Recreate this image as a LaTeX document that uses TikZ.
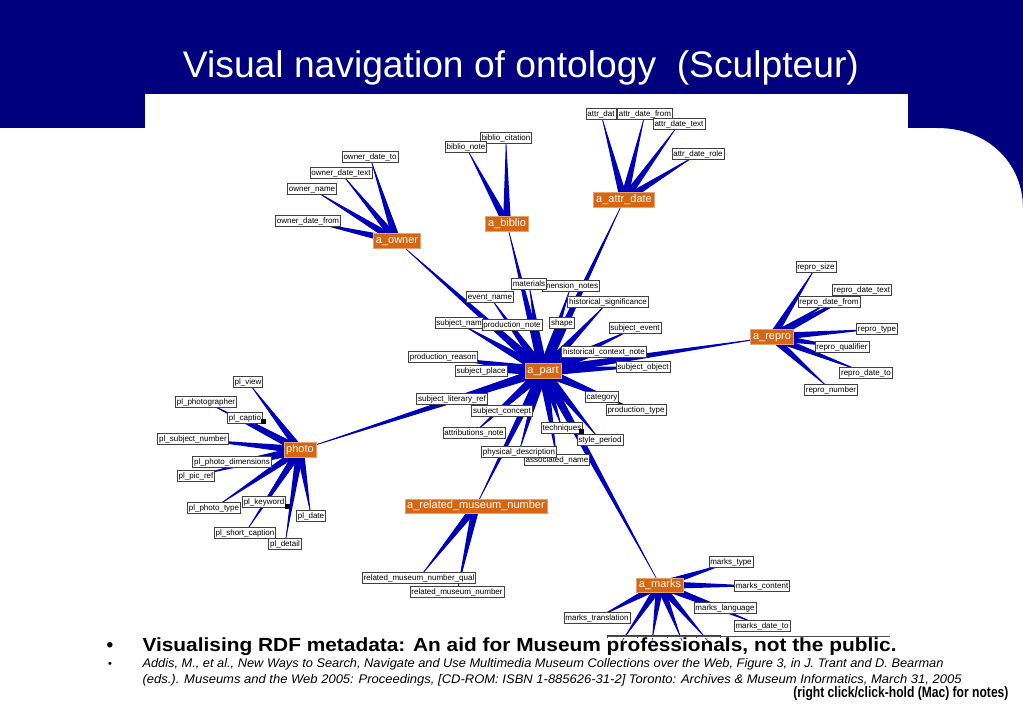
\documentclass[tikz,border=0pt]{standalone}
\usepackage{fontspec}
\setmainfont{Liberation Sans}
\usepackage{graphicx}
\usetikzlibrary{calc}

\definecolor{slidenavy}{RGB}{0,0,126}
\definecolor{hubfill}{RGB}{214,102,18}
\definecolor{spokeblue}{RGB}{0,0,185}
\definecolor{spokethin}{RGB}{105,105,215}

\pgfdeclarelayer{bg}
\pgfdeclarelayer{edges}
\pgfsetlayers{bg,edges,main}

% tapered connector: child, parent, half width at the parent
\newcommand{\spoke}[3][4]{%
  \draw[spokeline] (#2.center) -- (#3.center);
  \fill[spokefill] (#2.center) -- ($(#3.center)!#1pt!90:(#2.center)$) -- ($(#3.center)!#1pt!-90:(#2.center)$) -- cycle;}

\begin{document}
\begin{tikzpicture}[x=1pt,y=-1pt,
leaf/.style={draw=black!75, fill=white, line width=0.7pt, font=\fontsize{8}{9}\selectfont, inner xsep=1.4pt, inner ysep=1.2pt, text height=6.2pt, text depth=1.9pt},
hub/.style={fill=hubfill, draw=hubfill!60!white, text=white, font=\fontsize{11}{12}\selectfont, inner xsep=2.5pt, inner ysep=2pt, text height=8pt, text depth=2.6pt},
spokeline/.style={draw=spokethin, line width=0.7pt},
spokefill/.style={fill=spokeblue},
blackdot/.style={fill=black, minimum size=5pt, inner sep=0pt},
]
    \useasboundingbox (0,0) rectangle (1023,708);

    % slide background
    \begin{pgfonlayer}{bg}
    \fill[white] (0,0) rectangle (1023,708);
    \fill[slidenavy] (0,0) rectangle (1023,128);
    \fill[slidenavy] (908,128) -- (937,128) .. controls (990,128) and (1023,165) .. (1023,208) -- (1023,128) -- cycle;
    \fill[white] (145,94) rectangle (908,637);
    \end{pgfonlayer}

    \node[anchor=base, text=white, font=\fontsize{37}{44}\selectfont] (title) at (521,78) {\resizebox{676pt}{\height}{Visual navigation of ontology\ \ (Sculpteur)}};

    % owner
    \node [leaf] (owner-date-to) at (370,157) {owner\_date\_to};
    \node [leaf] (owner-date-text) at (341,173) {owner\_date\_text};
    \node [leaf] (owner-name) at (312,189) {owner\_name};
    \node [leaf] (owner-date-from) at (308,221) {owner\_date\_from};
    \node [hub] (a-owner) at (397,241) {a\_owner};

    % biblio
    \node [leaf] (biblio-citation) at (506,138) {biblio\_citation};
    \node [leaf] (biblio-note) at (466,147) {biblio\_note};
    \node [hub] (a-biblio) at (507,224) {a\_biblio};

    % attr date
    \node [leaf] (attr-dat) at (601,114) {attr\_dat};
    \node [leaf] (attr-date-from) at (645,114) {attr\_date\_from};
    \node [leaf] (attr-date-text) at (679,124) {attr\_date\_text};
    \node [leaf] (attr-date-role) at (698,154) {attr\_date\_role};
    \node [hub] (a-attr-date) at (624,200) {a\_attr\_date};

    % part
    \node [leaf] (mension-notes) at (571,286) {mension\_notes};
    \node [leaf] (materials) at (529,284) {materials};
    \node [leaf] (event-name) at (490,297) {event\_name};
    \node [leaf] (hist-significance) at (608,302) {historical\_significance};
    \node [leaf] (subject-nam) at (459,323) {subject\_nam};
    \node [leaf] (production-note) at (512,325) {production\_note};
    \node [leaf] (shape) at (562,323) {shape};
    \node [leaf] (subject-event) at (635,328) {subject\_event};
    \node [leaf] (hist-context) at (604,352) {historical\_context\_note};
    \node [leaf] (production-reason) at (443,357) {production\_reason};
    \node [leaf] (subject-place) at (481,371) {subject\_place};
    \node [leaf] (subject-object) at (643,367) {subject\_object};
    \node [leaf] (subject-literary) at (452,399) {subject\_literary\_ref};
    \node [leaf] (category) at (602,397) {category};
    \node [leaf] (production-type) at (636,410) {production\_type};
    \node [leaf] (subject-concept) at (502,411) {subject\_concept};
    \node [leaf] (attributions-note) at (474,433) {attributions\_note};
    \node [leaf] (style-period) at (600,440) {style\_period};
    \node [leaf] (techniques) at (562,428) {techniques};
    \node [blackdot] (techniques-dot) at (581,432) {};
    \node [leaf] (associated-name) at (557,460) {associated\_name};
    \node [leaf] (physical-description) at (519,452) {physical\_description};
    \node [hub] (a-part) at (543,371) {a\_part};

    % repro
    \node [leaf] (repro-size) at (816,267) {repro\_size};
    \node [leaf] (repro-date-text) at (862,290) {repro\_date\_text};
    \node [leaf] (repro-date-from) at (829,302) {repro\_date\_from};
    \node [leaf] (repro-type) at (877,329) {repro\_type};
    \node [leaf] (repro-qualifier) at (842,347) {repro\_qualifier};
    \node [leaf] (repro-date-to) at (866,373) {repro\_date\_to};
    \node [leaf] (repro-number) at (831,390) {repro\_number};
    \node [hub] (a-repro) at (772,337) {a\_repro};

    % photo
    \node [leaf] (pl-view) at (248,382) {pl\_view};
    \node [leaf] (pl-photographer) at (206,402) {pl\_photographer};
    \node [leaf] (pl-captio) at (245,418) {pl\_captio};
    \node [blackdot] (captio-dot) at (263,422) {};
    \node [leaf] (pl-subject-number) at (193,439) {pl\_subject\_number};
    \node [leaf] (pl-photo-dimensions) at (232,462) {pl\_photo\_dimensions};
    \node [leaf] (pl-pic-ref) at (196,476) {pl\_pic\_ref};
    \node [leaf] (pl-photo-type) at (214,508) {pl\_photo\_type};
    \node [leaf] (pl-keyword) at (264,502) {pl\_keyword};
    \node [blackdot] (keyword-dot) at (287,506) {};
    \node [leaf] (pl-date) at (311,516) {pl\_date};
    \node [leaf] (pl-short-caption) at (245,533) {pl\_short\_caption};
    \node [leaf] (pl-detail) at (285,544) {pl\_detail};
    \node [hub] (photo) at (300,450) {photo};

    % related museum number
    \node [leaf] (rel-number-qual) at (419,578) {related\_museum\_number\_qual};
    \node [leaf] (rel-number) at (457,592) {related\_museum\_number};
    \node [hub] (a-related) at (476,506) {a\_related\_museum\_number};

    % marks
    \node [leaf] (marks-type) at (731,562) {marks\_type};
    \node [leaf] (marks-content) at (762,586) {marks\_content};
    \node [leaf] (marks-language) at (725,608) {marks\_language};
    \node [leaf] (marks-translation) at (597,618) {marks\_translation};
    \node [leaf] (marks-date-to) at (762,626) {marks\_date\_to};
    \begin{scope}
    \clip (145,94) rectangle (908,637);
    \node [leaf, minimum width=30pt] (mk1) at (622,641) {};
    \node [leaf, minimum width=30pt] (mk2) at (652,641) {};
    \node [leaf, minimum width=30pt] (mk3) at (682,641) {};
    \node [leaf, minimum width=24pt] (mk4) at (708,641) {};
    \end{scope}
    \node [hub] (a-marks) at (660,585) {a\_marks};
    \draw[black!70, line width=0.7pt] (607,636) -- (890,636);

    \begin{pgfonlayer}{edges}
    \foreach \c in {owner-date-to,owner-date-text,owner-name,owner-date-from} \spoke{\c}{a-owner};
    \foreach \c in {biblio-citation,biblio-note} \spoke{\c}{a-biblio};
    \foreach \c in {attr-dat,attr-date-from,attr-date-text,attr-date-role} \spoke{\c}{a-attr-date};
    \foreach \c in {materials,mension-notes,event-name,hist-significance,subject-nam,production-note,shape,subject-event,hist-context,production-reason,subject-place,subject-object,subject-literary,category,production-type,subject-concept,attributions-note,techniques,style-period,associated-name,physical-description} \spoke[5]{\c}{a-part};
    \foreach \c in {a-owner,a-biblio,a-attr-date,a-repro,photo,a-related,a-marks} \spoke[4.5]{\c}{a-part};
    \foreach \c in {repro-size,repro-date-text,repro-date-from,repro-type,repro-qualifier,repro-date-to,repro-number} \spoke{\c}{a-repro};
    \foreach \c in {pl-view,pl-photographer,pl-captio,pl-subject-number,pl-photo-dimensions,pl-pic-ref,pl-photo-type,pl-keyword,pl-date,pl-short-caption,pl-detail} \spoke{\c}{photo};
    \foreach \c in {rel-number-qual,rel-number} \spoke{\c}{a-related};
    \foreach \c in {marks-type,marks-content,marks-language,marks-translation,marks-date-to,mk1,mk2,mk3,mk4} \spoke{\c}{a-marks};
    \end{pgfonlayer}

    % slide text
    \node[anchor=base, font=\fontsize{19}{22}\selectfont\bfseries] (bullet-a) at (110,651) {•};
    \node[anchor=base west, font=\fontsize{19}{22}\selectfont\bfseries] (point) at (139,651) {\resizebox{754pt}{\height}{Visualising RDF metadata: An aid for Museum professionals, not the public.}};
    \node[anchor=base, font=\fontsize{11}{13}\selectfont] (bullet-b) at (110,667) {•};
    \node[anchor=base west, font=\fontsize{12.5}{14}\selectfont\itshape] (cite-a) at (139,667) {\resizebox{801pt}{\height}{Addis, M., et al., New Ways to Search, Navigate and Use Multimedia Museum Collections over the Web, Figure 3, in J. Trant and D. Bearman}};
    \node[anchor=base west, font=\fontsize{12.5}{14}\selectfont\itshape] (cite-b) at (139,683) {\resizebox{819pt}{\height}{(eds.). Museums and the Web 2005: Proceedings, [CD-ROM: ISBN 1-885626-31-2] Toronto: Archives \& Museum Informatics, March 31, 2005}};
    \node[anchor=base east, font=\fontsize{15}{18}\selectfont\bfseries] (notes) at (1012,697) {\resizebox{215pt}{\height}{(right click/click-hold (Mac) for notes)}};
\end{tikzpicture}
\end{document}
